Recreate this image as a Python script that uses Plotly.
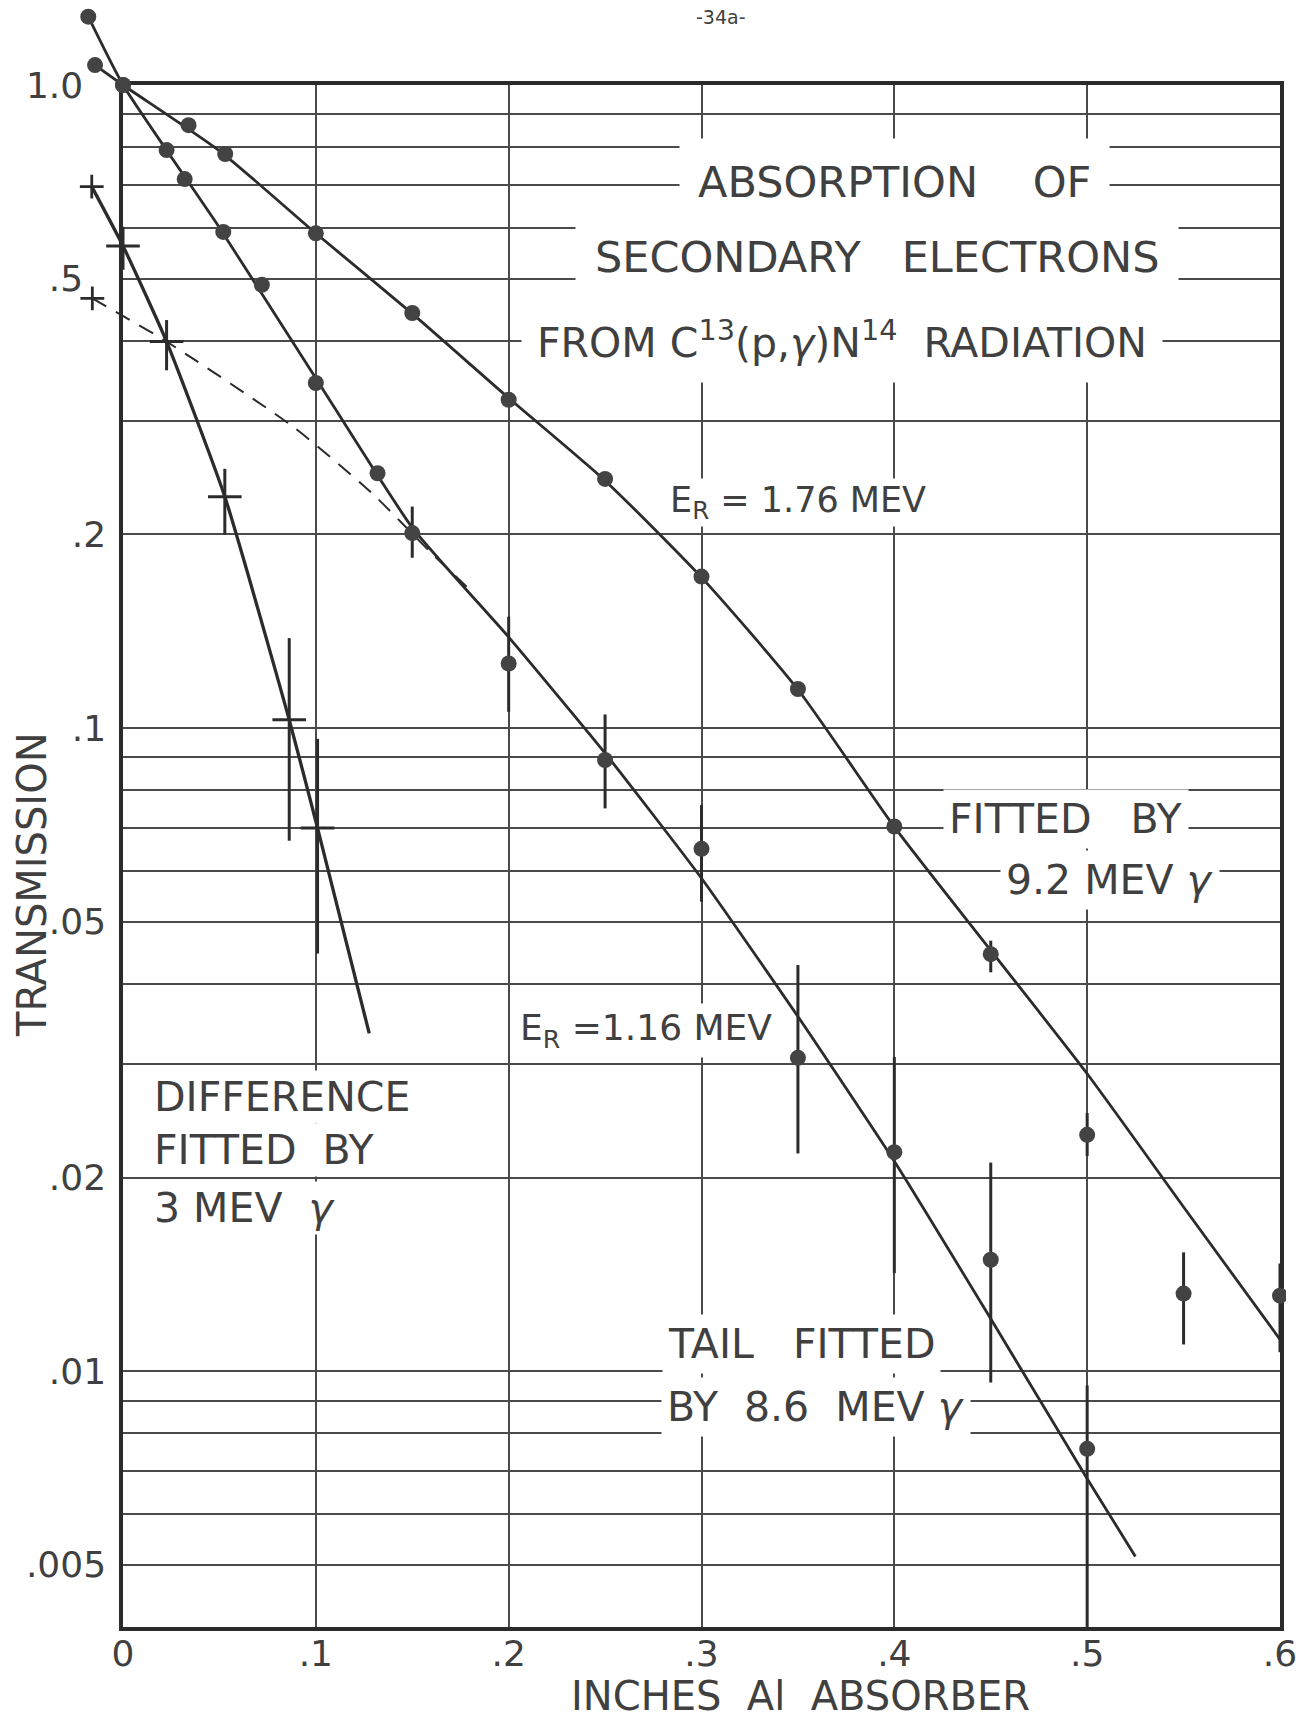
import math
import plotly.graph_objects as go

# ---------------- measured data (absorber thickness in inches, transmission) -------------
# E_R = 1.76 MeV, dots
X_176 = [-0.0145, 0.0, 0.034, 0.053, 0.10, 0.15, 0.20, 0.25, 0.30, 0.35, 0.40, 0.45, 0.50, 0.55, 0.60]
T_176 = [1.074, 1.0, 0.866, 0.781, 0.588, 0.442, 0.324, 0.244, 0.172, 0.115, 0.0703, 0.0445, 0.0233, 0.0132, 0.0131]
HI_176 = [None, None, None, None, None, None, None, None, None, None, None, 0.0467, 0.0252, 0.0153, 0.0147]
LO_176 = [None, None, None, None, None, None, None, None, None, None, None, 0.0417, 0.0216, 0.0110, 0.0107]

# E_R = 1.16 MeV, dots
X_116 = [-0.018, 0.0, 0.0226, 0.032, 0.052, 0.072, 0.10, 0.132, 0.15, 0.20, 0.25, 0.30, 0.35, 0.40, 0.45, 0.50]
T_116 = [1.277, 1.0, 0.792, 0.714, 0.591, 0.489, 0.344, 0.249, 0.201, 0.126, 0.0892, 0.0649, 0.0307, 0.0219, 0.0149, 0.00757]
HI_116 = [None, None, None, None, None, None, None, None, 0.221, 0.149, 0.105, 0.0759, 0.0428, 0.0308, 0.0211, 0.0095]
LO_116 = [None, None, None, None, None, None, None, None, 0.184, 0.106, 0.075, 0.0537, 0.0218, 0.0142, 0.0096, 0.004]

# difference (1.16 MeV curve minus its extrapolated tail), crosses
X_DIFF = [-0.0162, 0.0, 0.0226, 0.0528, 0.0862, 0.1009]
T_DIFF = [0.695, 0.562, 0.399, 0.229, 0.103, 0.0699]
HI_DIFF = [None, 0.602, 0.431, 0.253, 0.138, 0.0962]
LO_DIFF = [None, 0.516, 0.360, 0.200, 0.0668, 0.0446]

# zero-absorber value of the extrapolated tail
X_TAIL0 = [-0.0159]
T_TAIL0 = [0.4657]

# ---------------- fitted curves -------------
FIT_176_X = [-0.0145, 0.0, 0.05, 0.10, 0.15, 0.20, 0.25, 0.30, 0.35, 0.40, 0.45, 0.50, 0.55, 0.60]
FIT_176_T = [1.074, 1.0, 0.79, 0.588, 0.441, 0.326, 0.2425, 0.1715, 0.1148, 0.0702, 0.0451, 0.0290, 0.0180, 0.0112]

FIT_116_X = [-0.018, 0.0, 0.05, 0.10, 0.15, 0.20, 0.25, 0.30, 0.35, 0.40, 0.45, 0.50, 0.525]
FIT_116_T = [1.277, 1.0, 0.60, 0.350, 0.205, 0.1385, 0.0914, 0.0584, 0.0356, 0.0212, 0.01206, 0.0068, 0.00515]

FIT_DIFF_X = [-0.0162, 0.0, 0.0226, 0.0528, 0.0862, 0.1009, 0.1277]
FIT_DIFF_T = [0.695, 0.562, 0.399, 0.229, 0.103, 0.0699, 0.0335]

TAIL_X = [-0.0159, 0.0226, 0.0883, 0.129, 0.1608, 0.18]
TAIL_T = [0.4657, 0.399, 0.294, 0.232, 0.186, 0.164]

# ---------------- axes -------------
X_TICKS = [0.0, 0.1, 0.2, 0.3, 0.4, 0.5, 0.6]
X_TICK_TEXT = ["0", ".1", ".2", ".3", ".4", ".5", ".6"]
Y_TICKS = [1.0, 0.5, 0.2, 0.1, 0.05, 0.02, 0.01, 0.005]
Y_TICK_TEXT = ["1.0\u00a0\u00a0", ".5\u00a0\u00a0", ".2", ".1", ".05", ".02", ".01", ".005"]
Y_RULINGS = [0.9, 0.8, 0.7, 0.6, 0.4, 0.3,
             0.09, 0.08, 0.07, 0.06, 0.04, 0.03,
             0.009, 0.008, 0.007, 0.006, 0.004]
X_MIN, X_MAX = 0.0, 0.6
T_MIN, T_MAX = 0.004, 1.0

# ---------------- page geometry -------------
W, H = 1306, 1718
FRAME_L, FRAME_R = 123, 1280     # pixel column of x = 0 and x = 0.6
FRAME_T, FRAME_B = 85, 1627      # pixel row of T = 1.0 and T = 0.004
M_L, M_R, M_T = 40, 20, 4

INK = "#404040"
LINE = "#2b2b2b"
GRID = "#4a4a4a"
FONT = "DejaVu Sans"

px_per_x = (FRAME_R - FRAME_L) / (X_MAX - X_MIN)
px_per_dec = (FRAME_B - FRAME_T) / (math.log10(T_MAX) - math.log10(T_MIN))
paper_w = W - M_L - M_R
paper_h = FRAME_B - M_T

x_dom = [(FRAME_L - M_L) / paper_w, (FRAME_R - M_L) / paper_w]
y_dom = [0.0, (FRAME_B - FRAME_T) / paper_h]
x2_range = [X_MIN - (FRAME_L - M_L) / px_per_x, X_MAX + (W - M_R - FRAME_R) / px_per_x]
y2_range = [math.log10(T_MIN), math.log10(T_MAX) + (FRAME_T - M_T) / px_per_dec]


def paper_x(px):
    return (px - M_L) / paper_w


def paper_y(py):
    return (FRAME_B - py) / paper_h


def bars(vals, hi, lo):
    plus = [(h - v) if h is not None else 0 for v, h in zip(vals, hi)]
    minus = [(v - l) if l is not None else 0 for v, l in zip(vals, lo)]
    return dict(type="data", symmetric=False, array=plus, arrayminus=minus,
                color=LINE, thickness=3, width=0)


fig = go.Figure()

line_style = dict(color=LINE, width=2.8)

fig.add_trace(go.Scatter(x=FIT_176_X, y=FIT_176_T, mode="lines",
                         line=dict(shape="spline", smoothing=0.6, **line_style),
                         xaxis="x2", yaxis="y2", hoverinfo="skip"))
fig.add_trace(go.Scatter(x=FIT_116_X, y=FIT_116_T, mode="lines",
                         line=dict(shape="spline", smoothing=0.5, **line_style),
                         xaxis="x2", yaxis="y2", hoverinfo="skip"))
fig.add_trace(go.Scatter(x=FIT_DIFF_X, y=FIT_DIFF_T, mode="lines",
                         line=dict(shape="spline", smoothing=0.5, color=LINE, width=3.3),
                         xaxis="x2", yaxis="y2", hoverinfo="skip"))
fig.add_trace(go.Scatter(x=TAIL_X, y=TAIL_T, mode="lines",
                         line=dict(shape="spline", smoothing=0.6, color=LINE, width=2,
                                   dash="16px,11px"),
                         xaxis="x2", yaxis="y2", hoverinfo="skip"))

dot = dict(symbol="circle", size=16, color="#434343", line=dict(width=0))
fig.add_trace(go.Scatter(x=X_176, y=T_176, mode="markers", marker=dot,
                         error_y=bars(T_176, HI_176, LO_176), xaxis="x2", yaxis="y2",
                         name="E_R = 1.76 MeV"))
fig.add_trace(go.Scatter(x=X_116, y=T_116, mode="markers", marker=dot,
                         error_y=bars(T_116, HI_116, LO_116), xaxis="x2", yaxis="y2",
                         name="E_R = 1.16 MeV"))

# crosses: the horizontal arm is the marker, the vertical arm the error bar
fig.add_trace(go.Scatter(x=X_DIFF[1:], y=T_DIFF[1:], mode="markers",
                         marker=dict(symbol="line-ew", size=24, line=dict(color=LINE, width=3)),
                         error_y=bars(T_DIFF[1:], HI_DIFF[1:], LO_DIFF[1:]),
                         xaxis="x2", yaxis="y2", name="difference"))
fig.add_trace(go.Scatter(x=X_DIFF[:1] + X_TAIL0, y=T_DIFF[:1] + T_TAIL0, mode="markers",
                         marker=dict(symbol="cross-thin", size=17, line=dict(color=LINE, width=2.8)),
                         xaxis="x2", yaxis="y2", hoverinfo="skip"))

tick_font = dict(family=FONT, size=36, color=INK)

fig.update_layout(
    width=W, height=H,
    margin=dict(l=M_L, r=M_R, t=M_T, b=H - FRAME_B, pad=0, autoexpand=False),
    paper_bgcolor="white", plot_bgcolor="rgba(0,0,0,0)",
    showlegend=False,
    xaxis=dict(domain=x_dom, range=[X_MIN, X_MAX], anchor="y", automargin=False,
               tickmode="array", tickvals=X_TICKS, ticktext=X_TICK_TEXT,
               ticks="", tickfont=tick_font, ticklabelstandoff=-8,
               showgrid=True, gridcolor=GRID, gridwidth=1.8, zeroline=False,
               showline=True, linecolor=LINE, linewidth=3.5, mirror=True),
    yaxis=dict(domain=y_dom, type="log", automargin=False,
               range=[math.log10(T_MIN), math.log10(T_MAX)], anchor="x",
               tickmode="array", tickvals=Y_TICKS, ticktext=Y_TICK_TEXT,
               ticks="", tickfont=tick_font, ticklabelstandoff=6,
               showgrid=True, gridcolor=GRID, gridwidth=1.8, zeroline=False,
               minor=dict(tickmode="array", tickvals=Y_RULINGS, showgrid=True,
                          gridcolor=GRID, gridwidth=1.8, ticks=""),
               showline=True, linecolor=LINE, linewidth=3.5, mirror=True),
    xaxis2=dict(domain=[0, 1], range=x2_range, anchor="y2", visible=False, automargin=False),
    yaxis2=dict(domain=[0, 1], type="log", range=y2_range, anchor="x2", visible=False,
                automargin=False),
)


def note(text, x, t, size=40, xanchor="center", pad=3):
    return dict(text=text, x=x, y=math.log10(t), xref="x", yref="y",
                showarrow=False, xanchor=xanchor, yanchor="middle", align="left",
                font=dict(family=FONT, size=size, color=INK),
                bgcolor="white", borderpad=pad)


SP = "\u00a0"
GAMMA = "<i>\u03b3</i>"
annotations = [
    note("ABSORPTION" + SP * 3 + " OF", 0.400, 0.707, size=43, pad=18),
    note("SECONDARY" + SP * 2 + " ELECTRONS", 0.391, 0.540, size=43, pad=19),
    note("FROM C<sup>13</sup>(p," + GAMMA + ")N<sup>14</sup>" + SP + " RADIATION", 0.373, 0.401,
         size=41, pad=15),
    note("E<sub>R</sub> = 1.76 MEV", 0.350, 0.224, size=35, pad=1),
    note("FITTED" + SP * 2 + " BY", 0.489, 0.0722, size=41, pad=5),
    note("9.2 MEV " + GAMMA, 0.512, 0.0580, size=41, pad=5),
    note("E<sub>R</sub> =1.16 MEV", 0.271, 0.0338, size=36, pad=3),
    note("TAIL" + SP * 2 + " FITTED", 0.3516, 0.01102, size=41, pad=5),
    note("BY" + SP + " 8.6" + SP + " MEV " + GAMMA, 0.3594, 0.00879, size=41, pad=5),
    note("DIFFERENCE", 0.0145, 0.02668, size=41, xanchor="left", pad=2),
    note("FITTED" + SP + " BY", 0.0145, 0.02207, size=41, xanchor="left", pad=2),
    note("3 MEV " + SP + GAMMA, 0.0145, 0.01794, size=41, xanchor="left", pad=2),
    # axis titles and sheet number
    dict(text="TRANSMISSION", x=paper_x(32), y=paper_y(885), xref="paper", yref="paper",
         xanchor="center", yanchor="middle",
         showarrow=False, textangle=-90, font=dict(family=FONT, size=40, color=INK)),
    dict(text="INCHES" + SP + " Al" + SP + " ABSORBER", x=paper_x(800), y=paper_y(1696),
         xref="paper", yref="paper", xanchor="center", yanchor="middle", showarrow=False,
         font=dict(family=FONT, size=40, color=INK)),
    dict(text="-34a-", x=paper_x(721), y=paper_y(17), xref="paper", yref="paper",
         xanchor="center", yanchor="middle", showarrow=False,
         font=dict(family=FONT, size=19, color=INK)),
]
fig.update_layout(annotations=annotations)

fig.write_html("out.html")
